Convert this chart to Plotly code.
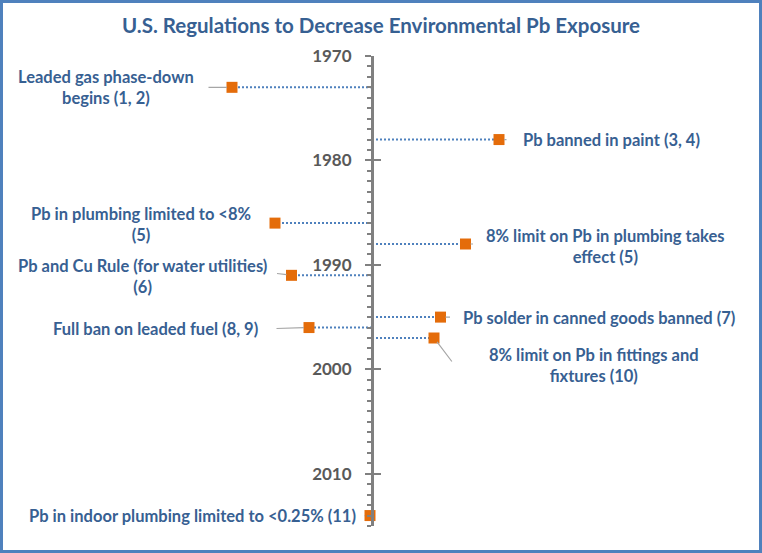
import plotly.graph_objects as go

# ---- data ----
events = [
    "Leaded gas phase-down<br>begins (1, 2)",
    "Pb banned in paint (3, 4)",
    "Pb in plumbing limited to <8%<br>(5)",
    "8% limit on Pb in plumbing takes<br>effect (5)",
    "Pb and Cu Rule (for water utilities)<br>(6)",
    "Pb solder in canned goods banned (7)",
    "Full ban on leaded fuel (8, 9)",
    "8% limit on Pb in fittings and<br>fixtures (10)",
    "Pb in indoor plumbing limited to <0.25% (11)",
]
years = [1973, 1978, 1986, 1988, 1991, 1995, 1996, 1997, 2014]
offsets = [-14.0, 12.7, -9.7, 9.35, -8.05, 6.85, -6.3, 6.2, -0.2]
year_ticks = [1970, 1980, 1990, 2000, 2010]

# ---- layout / style (pixels) ----
W, H = 762, 553
M_T, M_B = 56, 27
AXIS_PX = 372
PX_PER_UNIT = 10.0
# label centre offset from marker centre (dx right, dy down)
label_shift = [(-126, 0), (112, 0), (-134, 1.5), (140, 2), (-149, 1),
               (158, 1), (-154, 1), (160, 27), (-178, 0)]
leader_tail = [(-25, 0), (9, 0), None, (9, 0), (-16, -2), (11, 0),
               (-34, 1), (19, 25), (-7, 0)]

TXT = "#376092"
ORANGE = "#E46C0A"
DOT = "#4F81BD"
GRAY = "#808080"
FONT = "Lato"

xr = [-AXIS_PX / PX_PER_UNIT, (W - AXIS_PX) / PX_PER_UNIT]

fig = go.Figure()

# dotted connectors from the axis to each marker
lx, ly = [], []
for v, y in zip(offsets, years):
    lx += [0, v, None]
    ly += [y, y, None]
fig.add_trace(go.Scatter(x=lx, y=ly, mode="lines",
                         line=dict(color=DOT, width=2, dash="2px,2px"),
                         hoverinfo="skip", showlegend=False))

# markers
fig.add_trace(go.Scatter(x=offsets, y=years, mode="markers",
                         marker=dict(symbol="square", size=11, color=ORANGE,
                                     line=dict(width=0)),
                         showlegend=False))

# secondary overlay axis for the inward half of the major tick marks
fig.add_trace(go.Scatter(x=[None], y=[None], yaxis="y2", showlegend=False))

annotations = []
for v, y, t, (dx, dy), tail in zip(offsets, years, events, label_shift, leader_tail):
    annotations.append(dict(x=v, y=y, xref="x", yref="y", text=f"<b>{t}</b>",
                            showarrow=False, xshift=dx, yshift=-dy,
                            xanchor="center", yanchor="middle", align="center",
                            font=dict(family=FONT, size=16.5, color=TXT)))
    if tail is not None:
        annotations.append(dict(x=v, y=y, xref="x", yref="y", text="",
                                showarrow=True, arrowhead=0, arrowwidth=1.2,
                                arrowcolor="#A6A6A6", ax=tail[0], ay=tail[1],
                                standoff=5))

pos = AXIS_PX / W
ph = H - M_T - M_B
bw = 3
fig.add_shape(type="rect", xref="paper", yref="paper",
              x0=(bw / 2) / W, x1=1 - (bw / 2) / W,
              y0=-(M_B - bw / 2) / ph, y1=1 + (M_T - bw / 2) / ph,
              line=dict(color=DOT, width=bw), layer="above")

fig.update_layout(
    width=W, height=H,
    margin=dict(l=0, r=0, t=M_T, b=M_B),
    paper_bgcolor="white", plot_bgcolor="white",
    title=dict(text="<b>U.S. Regulations to Decrease Environmental Pb Exposure</b>",
               x=0.5, xanchor="center", y=1 - 26 / H, yanchor="middle",
               yref="container",
               font=dict(family=FONT, size=20.5, color=TXT)),
    xaxis=dict(range=xr, visible=False, fixedrange=True),
    yaxis=dict(range=[2015, 1970], anchor="free", position=pos,
               tickvals=year_ticks, showgrid=False, zeroline=False,
               showline=True, linecolor=GRAY, linewidth=3,
               ticks="outside", ticklen=6, tickwidth=2, tickcolor=GRAY,
               ticklabelstandoff=10,
               minor=dict(dtick=1, ticks="outside", ticklen=4, tickwidth=2,
                          tickcolor=GRAY, showgrid=False),
               tickfont=dict(family=FONT, size=17, color="#595959", weight="bold")),
    yaxis2=dict(range=[2015, 1970], anchor="free", position=pos, overlaying="y",
                tickvals=year_ticks, showticklabels=False, showgrid=False,
                zeroline=False, showline=False,
                ticks="inside", ticklen=8, tickwidth=2, tickcolor=GRAY),
    annotations=annotations,
    showlegend=False,
)

fig.write_html("out.html", config={"displayModeBar": False},
               post_script="document.body.style.margin='0';document.body.style.overflow='hidden';")
